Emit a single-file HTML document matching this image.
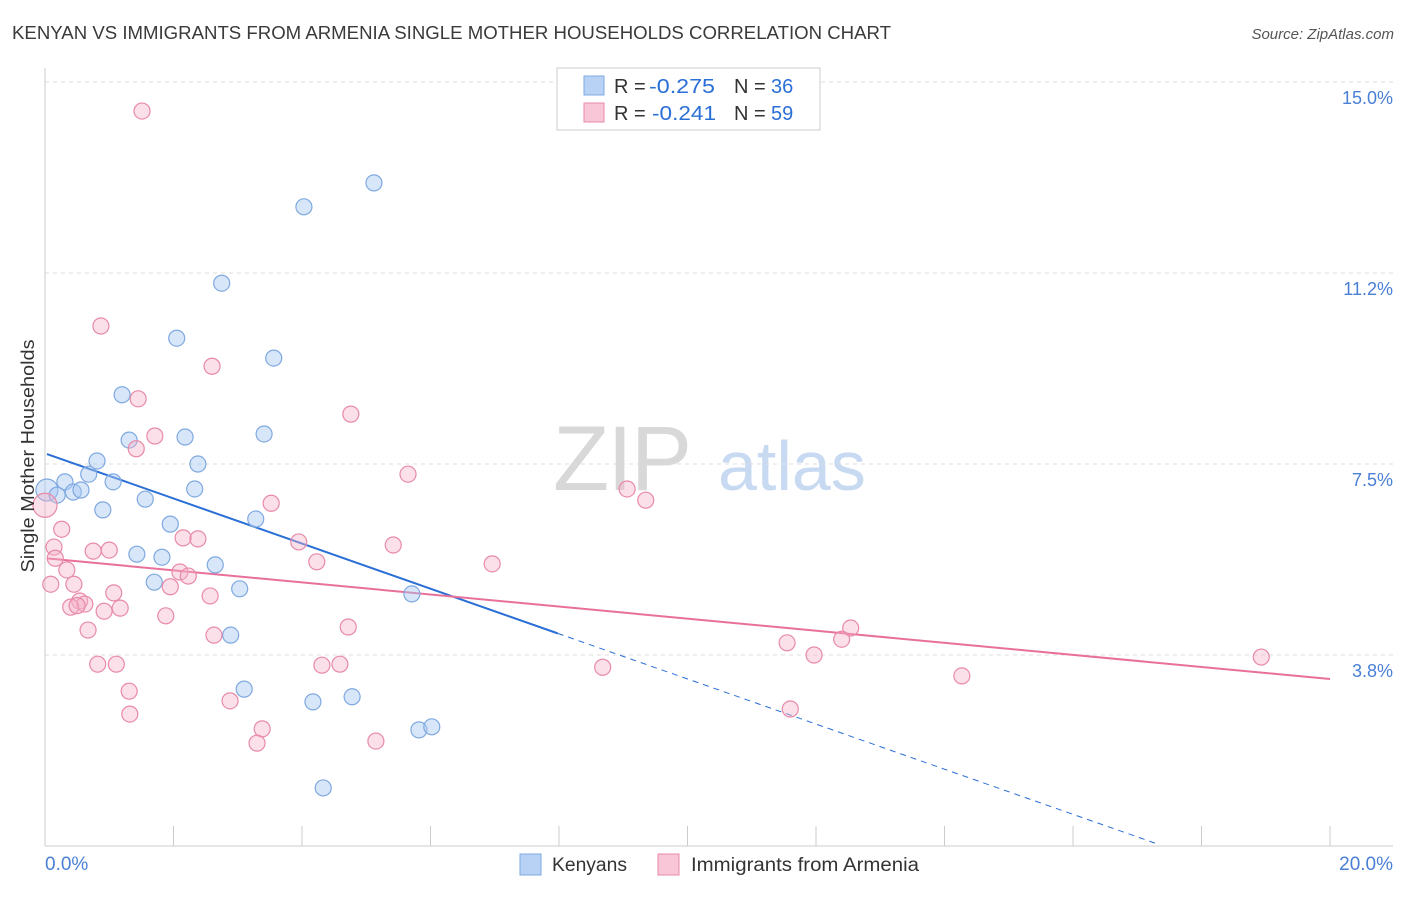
<!DOCTYPE html>
<html><head><meta charset="utf-8">
<style>
body{margin:0;background:#fff;font-family:"Liberation Sans",sans-serif;}
svg text{font-family:"Liberation Sans",sans-serif;}
</style></head>
<body>
<svg id="chart" width="1406" height="892" viewBox="0 0 1406 892" xmlns="http://www.w3.org/2000/svg">
<text x="12" y="39" font-size="18" fill="#3a3a3a" textLength="879" lengthAdjust="spacingAndGlyphs">KENYAN VS IMMIGRANTS FROM ARMENIA SINGLE MOTHER HOUSEHOLDS CORRELATION CHART</text>
<text x="1394" y="39" font-size="15" fill="#555" font-style="italic" text-anchor="end">Source: ZipAtlas.com</text>
<g>
<text x="553" y="490" font-size="92" fill="#d8d8d8" font-family="Liberation Serif" letter-spacing="-2">ZIP</text>
<text x="718" y="490" font-size="70" fill="#c8daf2">atlas</text>
</g>
<g id="grid"></g>
<g id="axes"></g>
<g id="lines"></g>
<g id="points"></g>
<text transform="translate(34,456) rotate(-90)" font-size="18" fill="#333" text-anchor="middle" textLength="233" lengthAdjust="spacingAndGlyphs">Single Mother Households</text>
<g>
<rect x="557" y="68" width="263" height="62" fill="#fff" stroke="#ccc"/>
<rect x="584" y="76" width="20" height="19" fill="#b8d2f5" stroke="#7fa9e0"/>
<rect x="584" y="103" width="20" height="19" fill="#f8c6d6" stroke="#e88aa8"/>
<text x="614" y="93" font-size="20" fill="#333">R =</text>
<text x="649" y="93" font-size="20" fill="#2a6fd6" textLength="66" lengthAdjust="spacingAndGlyphs">-0.275</text>
<text x="734" y="93" font-size="20" fill="#333">N =</text>
<text x="771" y="93" font-size="20" fill="#2a6fd6">36</text>
<text x="614" y="120" font-size="20" fill="#333">R =</text>
<text x="652" y="120" font-size="20" fill="#2a6fd6" textLength="64" lengthAdjust="spacingAndGlyphs">-0.241</text>
<text x="734" y="120" font-size="20" fill="#333">N =</text>
<text x="771" y="120" font-size="20" fill="#2a6fd6">59</text>
</g>
<g>
<rect x="520" y="854" width="21" height="21" fill="#b8d2f5" stroke="#7fa9e0"/>
<text x="552" y="871" font-size="19" fill="#333" textLength="75" lengthAdjust="spacingAndGlyphs">Kenyans</text>
<rect x="658" y="854" width="21" height="21" fill="#f8c6d6" stroke="#e88aa8"/>
<text x="691" y="871" font-size="19" fill="#333" textLength="228" lengthAdjust="spacingAndGlyphs">Immigrants from Armenia</text>
</g>
</svg>
<script>
const blueX=[0.03,0.19,0.31,0.44,0.56,0.68,0.81,0.90,1.06,1.20,1.31,1.43,1.56,1.70,1.82,1.95,2.05,2.18,2.33,2.38,2.65,2.75,2.89,3.03,3.10,3.28,3.41,3.56,4.03,4.17,4.33,4.78,5.12,5.71,5.82,6.02];
const blueY=[6.99,6.89,7.15,6.95,6.99,7.30,7.56,6.60,7.15,8.86,7.97,5.73,6.81,5.18,5.67,6.32,9.97,8.03,7.01,7.50,5.52,11.05,4.14,5.05,3.08,6.42,8.09,9.58,12.55,2.83,1.14,2.93,13.02,4.95,2.28,2.34];
const pinkX=[1.51,0.87,2.60,1.45,4.76,1.71,1.42,5.65,9.06,9.35,3.52,0.26,0.14,0.16,2.15,2.38,3.95,5.42,0.75,1.00,4.23,6.96,0.34,2.10,2.23,0.09,0.45,1.95,1.07,2.57,0.54,0.62,0.40,0.92,1.17,1.88,0.67,4.72,2.63,12.54,12.40,11.55,11.97,18.93,0.82,1.11,4.31,4.59,8.68,14.27,1.31,2.88,11.60,1.32,3.38,3.30,5.15,0.0,0.5];
const pinkY=[14.43,10.21,9.42,8.78,8.48,8.05,7.80,7.30,7.01,6.79,6.73,6.22,5.87,5.65,6.05,6.03,5.97,5.91,5.79,5.81,5.58,5.54,5.42,5.38,5.30,5.14,5.14,5.09,4.97,4.91,4.81,4.75,4.69,4.61,4.67,4.52,4.24,4.30,4.14,4.28,4.06,3.99,3.75,3.71,3.57,3.57,3.55,3.57,3.51,3.34,3.04,2.85,2.69,2.59,2.30,2.02,2.06,6.69,4.72];
const yTicks=[3.75,7.5,11.25,15];
const yTickLabels=["3.8%","7.5%","11.2%","15.0%"];
const xTickVals=[0,2,4,6,8,10,12,14,16,18,20];
const blueTrend={intercept:7.71,slope:-0.443,solidEnd:7.98,dashEnd:17.35};
const pinkTrend={intercept:5.65,slope:-0.1186,end:20};

const X0=45,X1=1330,Y0=846,PXY=50.93;
const sx=v=>X0+v*(X1-X0)/20;
const sy=v=>Y0-v*PXY;
const NS="http://www.w3.org/2000/svg";
function mk(tag,attrs,parent){const e=document.createElementNS(NS,tag);for(const k in attrs)e.setAttribute(k,attrs[k]);parent.appendChild(e);return e;}
const grid=document.getElementById('grid'),axes=document.getElementById('axes'),lines=document.getElementById('lines'),pts=document.getElementById('points');
yTicks.forEach((t,i)=>{
 const l=mk('line',{x1:45,x2:1393,y1:sy(t),y2:sy(t),stroke:'#ddd','stroke-dasharray':'4,4'},grid);
 
 
 const tx=mk('text',{x:1393,y:sy(t)+22,'font-size':18,fill:'#4a7fd6','text-anchor':'end'},axes);
 tx.textContent=yTickLabels[i];
 
 
});
const ya=mk('line',{x1:45,x2:45,y1:68,y2:846,stroke:'#ccc'},axes);


const xa=mk('line',{x1:45,x2:1393,y1:846,y2:846,stroke:'#ccc'},axes);


xTickVals.forEach(v=>{
 const t=mk('line',{x1:sx(v),x2:sx(v),y1:826,y2:846,stroke:'#ccc'},axes);
 
 
});
const xl0=mk('text',{x:45,y:870,'font-size':19,fill:'#4a7fd6'},axes);xl0.textContent='0.0%';


const xl1=mk('text',{x:1393,y:870,'font-size':19,fill:'#4a7fd6','text-anchor':'end'},axes);xl1.textContent='20.0%';



blueX.forEach((x,i)=>{
 const c=mk('circle',{cx:sx(x),cy:sy(blueY[i]),r:i==0?11:8,fill:'rgba(168,200,242,0.45)',stroke:'#7fa9e0','stroke-width':1.2},pts);
 
 
});
pinkX.forEach((x,i)=>{
 const c=mk('circle',{cx:sx(x),cy:sy(pinkY[i]),r:i==57?12:8,fill:'rgba(246,178,200,0.4)',stroke:'#e88aa8','stroke-width':1.2},pts);
 
 
});
const bt=v=>blueTrend.intercept+blueTrend.slope*v;
const pt=v=>pinkTrend.intercept+pinkTrend.slope*v;
const b1=mk('line',{x1:sx(0.03),y1:sy(bt(0.03)),x2:sx(blueTrend.solidEnd),y2:sy(bt(blueTrend.solidEnd)),stroke:'#2a6fd6','stroke-width':2},lines);


const b2=mk('line',{x1:sx(blueTrend.solidEnd),y1:sy(bt(blueTrend.solidEnd)),x2:sx(blueTrend.dashEnd),y2:sy(bt(blueTrend.dashEnd)),stroke:'#2a6fd6','stroke-width':1,'stroke-dasharray':'6,5'},lines);


const p1=mk('line',{x1:sx(0.03),y1:sy(pt(0.03)),x2:sx(pinkTrend.end),y2:sy(pt(pinkTrend.end)),stroke:'#e8709a','stroke-width':2},lines);


</script>
</body></html>
